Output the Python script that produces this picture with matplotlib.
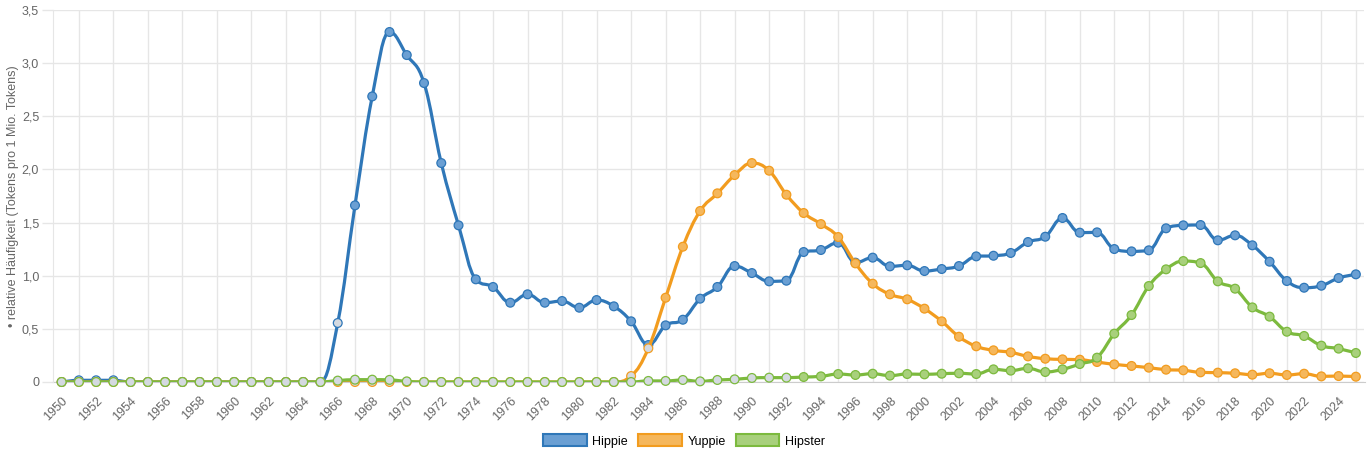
import numpy as np
import matplotlib.pyplot as plt
from matplotlib.path import Path
from matplotlib.patches import PathPatch, Patch

plt.rcParams['font.family'] = ['Liberation Sans', 'DejaVu Sans']

# Jahre und relative Häufigkeiten (Tokens pro 1 Mio. Tokens)
years = list(range(1950, 2026))

hippie = [0.0, 0.016, 0.016, 0.016, 0.0, 0.0, 0.0, 0.0, 0.0, 0.0,
          0.0, 0.0, 0.0, 0.0, 0.0, 0.0, 0.555, 1.662, 2.687, 3.293,
          3.076, 2.813, 2.06, 1.474, 0.966, 0.894, 0.746, 0.825, 0.746, 0.762,
          0.699, 0.771, 0.712, 0.571, 0.348, 0.533, 0.586, 0.784, 0.894, 1.091,
          1.025, 0.947, 0.953, 1.223, 1.242, 1.311, 1.123, 1.170, 1.088, 1.098,
          1.044, 1.063, 1.091, 1.182, 1.188, 1.214, 1.317, 1.367, 1.543, 1.405,
          1.408, 1.251, 1.229, 1.239, 1.446, 1.474, 1.477, 1.333, 1.380, 1.286,
          1.132, 0.950, 0.887, 0.906, 0.978, 1.013]

yuppie = [0.0] * 33 + [
          0.056, 0.317, 0.793, 1.273, 1.609, 1.775, 1.947,
          2.060, 1.988, 1.762, 1.590, 1.486, 1.364, 1.116, 0.925, 0.825, 0.778,
          0.690, 0.571, 0.426, 0.336, 0.298, 0.279, 0.241, 0.219, 0.213, 0.210,
          0.188, 0.166, 0.151, 0.135, 0.116, 0.110, 0.091, 0.088, 0.082, 0.069,
          0.082, 0.066, 0.078, 0.053, 0.056, 0.050]

hipster = [0.0] * 16 + [
          0.013, 0.022, 0.022, 0.020,
          0.006, 0.0, 0.0, 0.0, 0.0, 0.0, 0.0, 0.0, 0.0, 0.0,
          0.0, 0.0, 0.0, 0.0, 0.010, 0.010, 0.019, 0.006, 0.019, 0.025,
          0.038, 0.041, 0.041, 0.047, 0.053, 0.075, 0.066, 0.078, 0.060, 0.075,
          0.072, 0.078, 0.082, 0.075, 0.119, 0.107, 0.129, 0.094, 0.119, 0.169,
          0.229, 0.455, 0.630, 0.903, 1.060, 1.138, 1.119, 0.947, 0.878, 0.702,
          0.615, 0.473, 0.433, 0.342, 0.314, 0.273]

# ab diesem Jahr gilt der Wert als belastbar (farbige Marker)
names = ['Hippie', 'Yuppie', 'Hipster']
solid_from = [1967, 1985, 1993]

line_colors = ['#2f77b8', '#f29c1f', '#7cba3e']
fill_colors = ['#6a9fd3', '#f5b75c', '#a8d07c']
grey_fill = '#d4d9e0'


def spline_path(x, y, smoothing=1.5):
    """Spline wie bei Highcharts (kubische Bezier-Segmente)"""
    n = len(x)
    denom = smoothing + 1
    left = [(x[i], y[i]) for i in range(n)]
    right = [(x[i], y[i]) for i in range(n)]
    for i in range(1, n - 1):
        lx, ly = x[i - 1], y[i - 1]
        px, py = x[i], y[i]
        nx, ny = x[i + 1], y[i + 1]
        lcx = (smoothing * px + lx) / denom
        lcy = (smoothing * py + ly) / denom
        rcx = (smoothing * px + nx) / denom
        rcy = (smoothing * py + ny) / denom
        corr = (rcy - lcy) * (rcx - px) / (rcx - lcx) + py - rcy
        lcy += corr
        rcy += corr
        if lcy > ly and lcy > py:
            lcy = max(ly, py)
            rcy = 2 * py - lcy
        elif lcy < ly and lcy < py:
            lcy = min(ly, py)
            rcy = 2 * py - lcy
        if rcy > ny and rcy > py:
            rcy = max(ny, py)
            lcy = 2 * py - rcy
        elif rcy < ny and rcy < py:
            rcy = min(ny, py)
            lcy = 2 * py - rcy
        left[i] = (lcx, lcy)
        right[i] = (rcx, rcy)
    verts = [(x[0], y[0])]
    codes = [Path.MOVETO]
    for i in range(1, n):
        verts += [right[i - 1], left[i], (x[i], y[i])]
        codes += [Path.CURVE4] * 3
    return Path(verts, codes)


fig = plt.figure(figsize=(13.7, 4.58), dpi=100)
ax = fig.add_axes([53 / 1370, 76 / 458, 1311.5 / 1370, 372 / 458])

grid_c = '#e6e6e6'
for k, (name, vals) in enumerate(zip(names, [hippie, yuppie, hipster])):
    path = spline_path(years, vals)
    ax.add_patch(PathPatch(path, facecolor='none', edgecolor=line_colors[k],
                           lw=2.3, zorder=3 + k, capstyle='round',
                           joinstyle='round'))
    yrs = np.array(years)
    v = np.array(vals)
    fc = np.where(yrs >= solid_from[k], fill_colors[k], grey_fill)
    ax.scatter(yrs, v, s=40, c=list(fc), edgecolors=line_colors[k],
               linewidths=0.9, zorder=3.5 + k, clip_on=False)

ax.set_xlim(1949.5, 2025.5)
ax.set_ylim(0, 3.5)

ax.set_xticks(years[::2])
ax.set_xticklabels([str(y) for y in years[::2]], rotation=45, ha='right',
                   va='top', rotation_mode='anchor')
ax.set_xticks(years[1::2], minor=True)
ax.tick_params(axis='x', which='both', length=0, pad=9, labelsize=9,
               labelcolor='#666666')
ax.grid(True, axis='x', which='minor', color=grid_c, lw=1)

yt = np.arange(0, 3.51, 0.5)
ax.set_yticks(yt)
ax.set_yticklabels(['0'] + [f'{t:.1f}'.replace('.', ',') for t in yt[1:]])
ax.tick_params(axis='y', length=8, width=1, color=grid_c, pad=2,
               labelsize=9, labelcolor='#666666')
ax.grid(True, axis='y', color=grid_c, lw=1)
ax.set_axisbelow(True)

for s in ['top', 'right']:
    ax.spines[s].set_visible(False)
ax.spines['left'].set_color(grid_c)
ax.spines['bottom'].set_color('#cccccc')
ax.spines['bottom'].set_zorder(2)

ax.set_ylabel('• relative Häufigkeit (Tokens pro 1 Mio. Tokens)',
              fontsize=9, color='#666666', labelpad=2)

handles = [Patch(facecolor=fill_colors[k], edgecolor=line_colors[k], lw=1.5,
                 label=names[k]) for k in range(3)]
fig.legend(handles=handles, loc='center', bbox_to_anchor=(684 / 1370, 1 - 441 / 458),
           ncol=3, frameon=False, fontsize=9, handlelength=3.5,
           handleheight=1.1, handletextpad=0.45, columnspacing=0.8)

fig.savefig('out.png', dpi=100)
